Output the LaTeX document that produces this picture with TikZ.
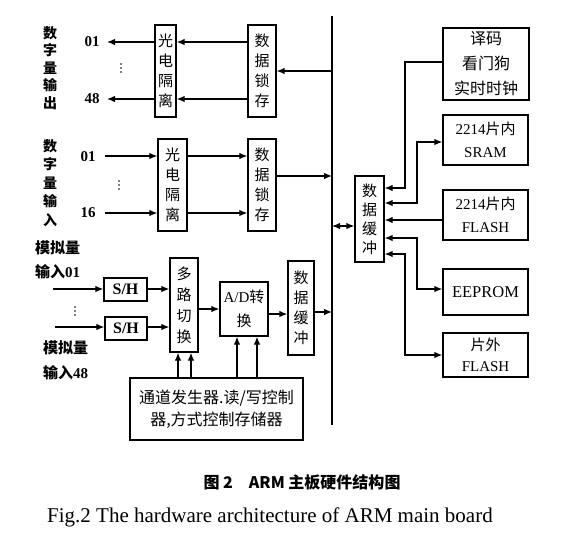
\documentclass[tikz,border=0pt]{standalone}
\usepackage{fontspec}
\setmainfont{Liberation Serif}
\newfontfamily\cjk{Noto Sans CJK SC}
\usetikzlibrary{arrows.meta}
\tikzset{
  box/.style={draw, line width=1.3pt, inner sep=0pt, align=center},
  conn/.style={line width=1.2pt},
  arr/.style={conn, -{Latex[length=8pt,width=6.5pt]}},
  darr/.style={conn, {Latex[length=8pt,width=6.5pt]}-{Latex[length=8pt,width=6.5pt]}},
  vt/.style={font=\fontsize{15}{20}\selectfont\cjk},
  bt/.style={font=\fontsize{15}{23}\selectfont},
  lab/.style={font=\fontsize{14}{17.5}\selectfont\cjk\bfseries, align=center, inner sep=0pt},
  num/.style={font=\fontsize{15}{18}\selectfont\bfseries, inner sep=0pt},
  dot/.style={fill, circle, inner sep=0pt, minimum size=1.8pt},
}
\begin{document}
\begin{tikzpicture}[x=1pt,y=-1pt]
\useasboundingbox (0,0) rectangle (564,550);
% ---------- boxes ----------
\node[box, vt, minimum width=21pt, minimum height=92pt] (og1) at (165.5,71) {光\\电\\隔\\离};
\node[box, vt, minimum width=28pt, minimum height=92pt] (ls1) at (262,71) {数\\据\\锁\\存};
\node[box, vt, minimum width=29pt, minimum height=92pt] (og2) at (172.5,185) {光\\电\\隔\\离};
\node[box, vt, minimum width=28pt, minimum height=92pt] (ls2) at (262,185) {数\\据\\锁\\存};
\node[box, font=\fontsize{16}{18}\selectfont\bfseries, minimum width=43pt, minimum height=23pt] (sh1) at (125.5,289.5) {S/H};
\node[box, font=\fontsize{16}{18}\selectfont\bfseries, minimum width=42pt, minimum height=23pt] (sh2) at (126,328.5) {S/H};
\node[box, font=\fontsize{15}{21}\selectfont\cjk, minimum width=28pt, minimum height=94pt] (mux) at (184,305) {多\\路\\切\\换};
\node[box, font=\fontsize{15}{24}\selectfont, minimum width=48pt, minimum height=54pt] (adc) at (244,309) {A/D{\cjk 转}\\{\cjk 换}};
\node[box, vt, minimum width=26pt, minimum height=94pt] (bufl) at (301,308) {数\\据\\缓\\冲};
\node[box, font=\fontsize{16}{22}\selectfont\cjk, minimum width=173pt, minimum height=62pt] (ctrl) at (216.5,409) {通道发生器.读/写控制\\器,方式控制存储器};
\node[box, font=\fontsize{15}{19}\selectfont\cjk, minimum width=29pt, minimum height=86pt] (bufr) at (369.5,219) {数\\据\\缓\\冲};
\node[box, font=\fontsize{16}{25}\selectfont\cjk, minimum width=86pt, minimum height=72pt] (dec) at (486,64) {译码\\看门狗\\实时时钟};
\node[box, bt, minimum width=85pt, minimum height=50pt] (sram) at (485.5,140) {2214{\cjk 片内}\\SRAM};
\node[box, bt, minimum width=85pt, minimum height=50pt] (flin) at (485.5,215) {2214{\cjk 片内}\\FLASH};
\node[box, font=\fontsize{16.5}{20}\selectfont, minimum width=85pt, minimum height=46pt] (eep) at (485.5,292) {EEPROM};
\node[box, font=\fontsize{15}{21}\selectfont, minimum width=85pt, minimum height=44pt] (flout) at (485.5,355) {{\cjk 片外}\\FLASH};
% ---------- labels ----------
\node[lab] (lout) at (50,68) {数\\字\\量\\输\\出};
\node[lab, font=\fontsize{14}{18.5}\selectfont\cjk\bfseries] (lin) at (50,183) {数\\字\\量\\输\\入};
\node[num] (o01) at (92,42) {01};
\node[num] (o48) at (92,99) {48};
\node[num] (i01) at (88,157) {01};
\node[num] (i16) at (88,213) {16};
\foreach \cx/\cy in {121/68, 119/185, 75/311}{
  \node[dot] at (\cx,\cy-4) {};
  \node[dot] at (\cx,\cy) {};
  \node[dot] at (\cx,\cy+4) {};
}
\node[lab, align=left, font=\fontsize{15}{24}\selectfont\cjk\bfseries, anchor=west] (a01) at (35,260) {模拟量\\输入{\rmfamily\bfseries 01}};
\node[lab, align=left, font=\fontsize{15}{25}\selectfont\cjk\bfseries, anchor=west] (a48) at (43,360.5) {模拟量\\输入{\rmfamily\bfseries 48}};
% ---------- bus ----------
\coordinate (btop) at (332,16);
\coordinate (bbot) at (332,425);
\draw[line width=1.5pt] (btop) -- (bbot);
% ---------- coordinates for free ends ----------
\coordinate (e1) at (107,42);
\coordinate (e2) at (107,99);
\coordinate (s1) at (105,156);
\coordinate (s2) at (105,213);
\coordinate (s3) at (53,289);
\coordinate (s4) at (55,327);
% ---------- connectors: digital output ----------
\draw[arr] (btop |- 0,71) -- (ls1.east |- 0,71);
\draw[arr] (ls1.west |- e1) -- (og1.east |- e1);
\draw[arr] (ls1.west |- e2) -- (og1.east |- e2);
\draw[arr] (og1.west |- e1) -- (e1);
\draw[arr] (og1.west |- e2) -- (e2);
% ---------- digital input ----------
\draw[arr] (s1) -- (og2.west |- s1);
\draw[arr] (s2) -- (og2.west |- s2);
\draw[arr] (og2.east |- s1) -- (ls2.west |- s1);
\draw[arr] (og2.east |- s2) -- (ls2.west |- s2);
\draw[arr] (ls2.east |- 0,176) -- (btop |- 0,176);
% ---------- analog ----------
\draw[arr] (s3) -- (sh1.west |- s3);
\draw[arr] (s4) -- (sh2.west |- s4);
\draw[arr] (sh1.east |- s3) -- (mux.west |- s3);
\draw[arr] (sh2.east |- s4) -- (mux.west |- s4);
\draw[arr] (mux.east |- 0,309) -- (adc.west |- 0,309);
\draw[arr] (adc.east |- 0,314) -- (bufl.west |- 0,314);
\draw[arr] (bufl.east |- 0,312) -- (btop |- 0,312);
\draw[arr] (ctrl.north -| 178,0) -- (mux.south -| 178,0);
\draw[arr] (ctrl.north -| 191,0) -- (mux.south -| 191,0);
\draw[arr] (ctrl.north -| 237,0) -- (adc.south -| 237,0);
\draw[arr] (ctrl.north -| 257,0) -- (adc.south -| 257,0);
% ---------- right side ----------
\draw[darr] (btop |- 0,226) -- (bufr.west |- 0,226);
\draw[arr] (dec.west |- 0,62) -| (405,188) -- (bufr.east |- 0,188);
\draw[darr] (bufr.east |- 0,203) -| (417,142) -- (sram.west |- 0,142);
\draw[arr] (flin.west |- 0,220) -- (bufr.east |- 0,220);
\draw[darr] (bufr.east |- 0,238) -| (417,289) -- (eep.west |- 0,289);
\draw[darr] (bufr.east |- 0,254) -| (405,355) -- (flout.west |- 0,355);
% ---------- captions ----------
\node[font=\fontsize{16}{18}\selectfont\cjk\bfseries, inner sep=0pt] (cap1) at (302,482) {图 2\quad ARM 主板硬件结构图};
\node[font=\fontsize{21}{23}\selectfont, inner sep=0pt, anchor=west] (cap2) at (47,517) {Fig.2 The hardware architecture of ARM main board};
\end{tikzpicture}
\end{document}
